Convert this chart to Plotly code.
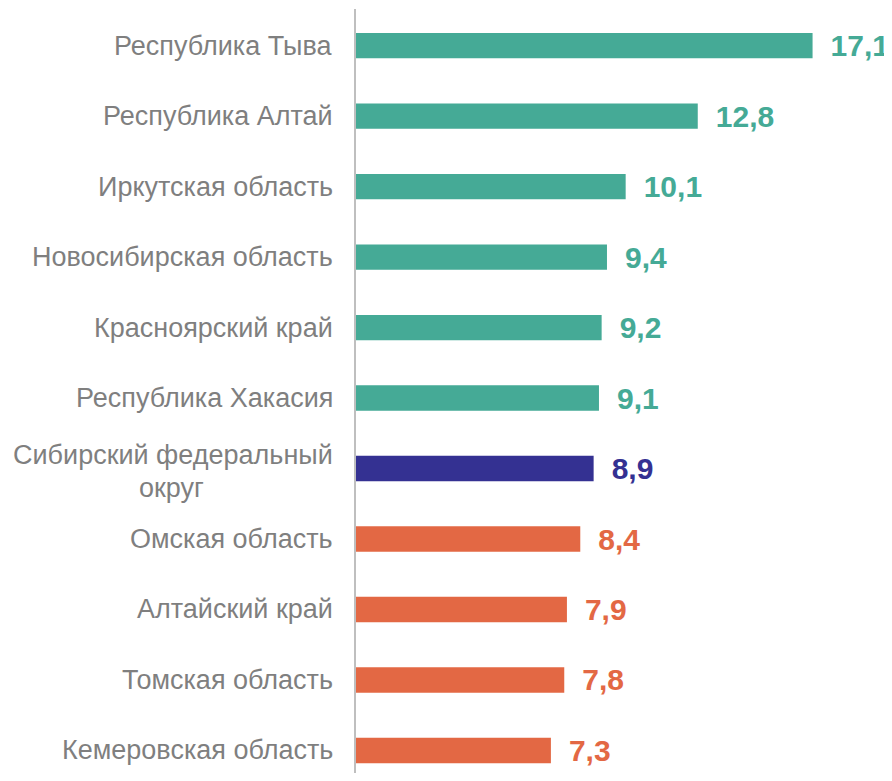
import plotly.graph_objects as go

# ── ДАННЫЕ ────────────────────────────────────────────────────────────────────
regions = [
    'Республика Тыва',
    'Республика Алтай',
    'Иркутская область',
    'Новосибирская область',
    'Красноярский край',
    'Республика Хакасия',
    'Сибирский федеральный<br>округ',
    'Омская область',
    'Алтайский край',
    'Томская область',
    'Кемеровская область',
]
values = [17.1, 12.8, 10.1, 9.4, 9.2, 9.1, 8.9, 8.4, 7.9, 7.8, 7.3]
groups = ['above'] * 6 + ['district'] + ['below'] * 4

TEAL   = '#45AA96'
NAVY   = '#343192'
ORANGE = '#E36844'
GREY   = '#7F7F7F'
FONT   = 'Arial, Liberation Sans, sans-serif'

palette = {'above': TEAL, 'district': NAVY, 'below': ORANGE}
colors = [palette[g] for g in groups]


def fmt_ru(v):
    """10.1 -> '10,1'"""
    return f'{v:.1f}'.replace('.', ',')


fig = go.Figure(go.Bar(
    x=values, y=regions, orientation='h',
    marker=dict(color=colors, line=dict(width=0)),
    width=0.36,
    text=['\u2002' + fmt_ru(v) for v in values],
    textposition='outside',
    constraintext='none',
    cliponaxis=False,
    outsidetextfont=dict(family=FONT, size=30, color=colors, weight='bold'),
    hoverinfo='skip',
))

# подписи регионов — аннотациями (двухстрочная: вторая строка по центру)
lbl_font = dict(family=FONT, size=27, color=GREY)
for name in regions:
    lines = name.split('<br>')
    if len(lines) == 1:
        fig.add_annotation(x=0, y=name, xref='paper', yref='y', text=name,
                           showarrow=False, xanchor='right', yanchor='middle',
                           xshift=-21, font=lbl_font)
        continue
    fig.add_annotation(x=0, y=name, xref='paper', yref='y', text=lines[0],
                       showarrow=False, xanchor='right', yanchor='middle',
                       xshift=-21, yshift=14, font=lbl_font)
    fig.add_annotation(x=0, y=name, xref='paper', yref='y', text=lines[1],
                       showarrow=False, xanchor='center', yanchor='middle',
                       xshift=-185, yshift=-19, font=lbl_font)

fig.update_xaxes(range=[0, 20], visible=False, showgrid=False, zeroline=False)
fig.update_yaxes(
    type='category', categoryorder='array', categoryarray=regions,
    range=[10.32, -0.52],
    showticklabels=False, showgrid=False, zeroline=False,
    showline=True, linecolor='#BFBFBF', linewidth=2,
)
# страница имеет отступ body 8px — компенсируем размером и полями
fig.update_layout(
    width=884, height=765,
    margin=dict(l=348, r=2, t=1, b=0),
    plot_bgcolor='white', paper_bgcolor='white',
    showlegend=False,
)

fig.write_html('out.html')
